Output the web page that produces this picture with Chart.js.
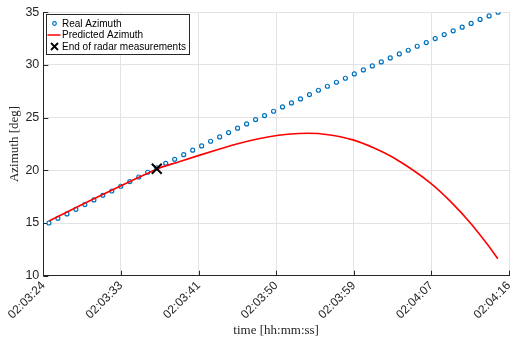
<!DOCTYPE html>
<html>
<head>
<meta charset="utf-8">
<script src="https://cdn.jsdelivr.net/npm/chart.js@4.4.1/dist/chart.umd.min.js"></script>
<style>
html,body{margin:0;padding:0;background:#fff;}
#wrap{width:518px;height:341px;position:relative;}
</style>
</head>
<body>
<div id="wrap"><canvas id="c" width="518" height="341"></canvas></div>
<script>
// seconds after 02:03:00
const realTime = [24.63,25.63,26.64,27.64,28.64,29.65,30.65,31.65,32.65,33.66,34.66,35.66,36.67,37.67,38.67,39.68,40.68,41.68,42.68,43.69,44.69,45.69,46.70,47.70,48.70,49.71,50.71,51.71,52.71,53.72,54.72,55.72,56.73,57.73,58.73,59.74,60.74,61.74,62.74,63.75,64.75,65.75,66.76,67.76,68.76,69.77,70.77,71.77,72.77,73.78,74.78];
const realAzimuth = [15.00,15.45,15.86,16.30,16.75,17.19,17.63,18.04,18.49,18.93,19.37,19.82,20.23,20.67,21.05,21.49,21.91,22.32,22.76,23.17,23.58,24.00,24.41,24.82,25.20,25.61,26.02,26.40,26.78,27.19,27.60,27.98,28.36,28.74,29.15,29.53,29.91,30.29,30.67,31.05,31.40,31.78,32.13,32.51,32.89,33.24,33.59,33.94,34.32,34.66,35.01];
const predTime = [24.63,27.5,30.29,33.5,35.6,36.67,39.17,41.39,43.61,45.82,48.04,50.26,52.48,53.6,55.81,58.58,60.99,63.21,67.27,69.49,71.71,73.56,74.75];
const predAzimuth = [15.2,16.4,17.57,18.87,19.7,20.13,20.82,21.42,22.0,22.55,23.0,23.33,23.5,23.52,23.38,22.89,22.1,21.15,18.77,17.03,14.98,13.0,11.61];
const endTime = [36.67];
const endAzimuth = [20.15];
const xTickValues = [24,32.667,41.333,50,58.667,67.333,76];
const xTickLabels = ["02:03:24","02:03:33","02:03:41","02:03:50","02:03:59","02:04:07","02:04:16"];
const yTickValues = [10,15,20,25,30,35];
const legendLabels = ["Real Azimuth","Predicted Azimuth","End of radar measurements"];

const BLUE = '#0072BD', RED = '#FF0000', AX = '#262626', GRID = '#e3e3e3';

const inwardTicks = {
  id: 'inwardTicks',
  beforeDatasetsDraw(chart) {
    const {ctx, chartArea: a, scales: {x, y}} = chart;
    ctx.save();
    ctx.strokeStyle = AX; ctx.lineWidth = 1;
    ctx.beginPath();
    xTickValues.forEach(v => { const px = Math.round(x.getPixelForValue(v)) + 0.5; ctx.moveTo(px, a.bottom); ctx.lineTo(px, a.bottom - 5); });
    yTickValues.forEach(v => { const py = Math.round(y.getPixelForValue(v)) + 0.5; ctx.moveTo(a.left, py); ctx.lineTo(a.left + 5, py); });
    ctx.stroke();
    ctx.restore();
  }
};

const boxLegend = {
  id: 'boxLegend',
  afterDraw(chart) {
    const ctx = chart.ctx;
    const bx = 46.5, by = 14.5, bw = 143, bh = 40;
    ctx.save();
    ctx.fillStyle = '#fff'; ctx.fillRect(bx, by, bw, bh);
    ctx.strokeStyle = AX; ctx.lineWidth = 1; ctx.strokeRect(bx, by, bw, bh);
    ctx.font = '10px "Liberation Sans", Arial, sans-serif';
    ctx.textBaseline = 'middle'; ctx.textAlign = 'left';
    const rows = [23.5, 35, 46.5];
    ctx.beginPath(); ctx.arc(54.5, rows[0], 1.8, 0, Math.PI*2);
    ctx.fillStyle = '#fff'; ctx.fill(); ctx.strokeStyle = BLUE; ctx.lineWidth = 1.2; ctx.stroke();
    ctx.beginPath(); ctx.moveTo(47.5, rows[1]); ctx.lineTo(60.5, rows[1]); ctx.strokeStyle = RED; ctx.lineWidth = 1.5; ctx.stroke();
    ctx.beginPath(); ctx.moveTo(51, rows[2]-3.5); ctx.lineTo(58, rows[2]+3.5); ctx.moveTo(58, rows[2]-3.5); ctx.lineTo(51, rows[2]+3.5);
    ctx.strokeStyle = '#000'; ctx.lineWidth = 1.8; ctx.stroke();
    ctx.fillStyle = '#000';
    legendLabels.forEach((t, i) => ctx.fillText(t, 62, rows[i] + 0.5));
    ctx.restore();
  }
};

const toXY = (xs, ys) => xs.map((v, i) => ({x: v, y: ys[i]}));

new Chart(document.getElementById('c'), {
  type: 'scatter',
  data: {
    datasets: [
      { label: legendLabels[2], data: toXY(endTime, endAzimuth), pointStyle: 'crossRot', pointRadius: 7, borderColor: '#000', borderWidth: 2, backgroundColor: '#000', order: 0 },
      { label: legendLabels[1], data: toXY(predTime, predAzimuth), showLine: true, cubicInterpolationMode: 'monotone', borderColor: RED, borderWidth: 1.6, pointRadius: 0, order: 1 },
      { label: legendLabels[0], data: toXY(realTime, realAzimuth), pointStyle: 'circle', pointRadius: 2, borderColor: BLUE, backgroundColor: '#fff', borderWidth: 1.2, order: 2 }
    ]
  },
  options: {
    responsive: false, animation: false,
    devicePixelRatio: 1,
    layout: { padding: { top: 12.3, right: 6.3, left: 0, bottom: 0 } },
    plugins: { legend: { display: false }, tooltip: { enabled: false } },
    scales: {
      x: {
        type: 'linear', min: 24, max: 76,
        afterBuildTicks: s => { s.ticks = xTickValues.map(v => ({value: v})); },
        afterFit: s => { s.height = 65.3; s.paddingLeft = 0; s.paddingRight = 0; },
        ticks: { autoSkip: false, minRotation: 45, maxRotation: 45, padding: 3, color: AX,
          font: { family: '"Liberation Sans", Arial, sans-serif', size: 12 },
          callback: (v, i) => xTickLabels[i] },
        grid: { color: GRID, drawTicks: false, lineWidth: 1 },
        border: { color: AX, width: 1 },
        title: { display: true, text: 'time [hh:mm:ss]', color: AX, padding: { top: 0, bottom: 3 },
          font: { family: '"Liberation Serif", "DejaVu Serif", serif', size: 13 } }
      },
      y: {
        min: 10, max: 35,
        afterBuildTicks: s => { s.ticks = yTickValues.map(v => ({value: v})); },
        afterFit: s => { s.width = 43.3; },
        ticks: { padding: 4, color: AX, font: { family: '"Liberation Sans", Arial, sans-serif', size: 12.5 } },
        grid: { color: GRID, drawTicks: false, lineWidth: 1 },
        border: { color: AX, width: 1 },
        title: { display: true, text: 'Azimuth [deg]', color: AX, padding: { top: 7, bottom: 0 },
          font: { family: '"Liberation Serif", "DejaVu Serif", serif', size: 13 } }
      }
    }
  },
  plugins: [inwardTicks, boxLegend]
});
</script>
</body>
</html>
